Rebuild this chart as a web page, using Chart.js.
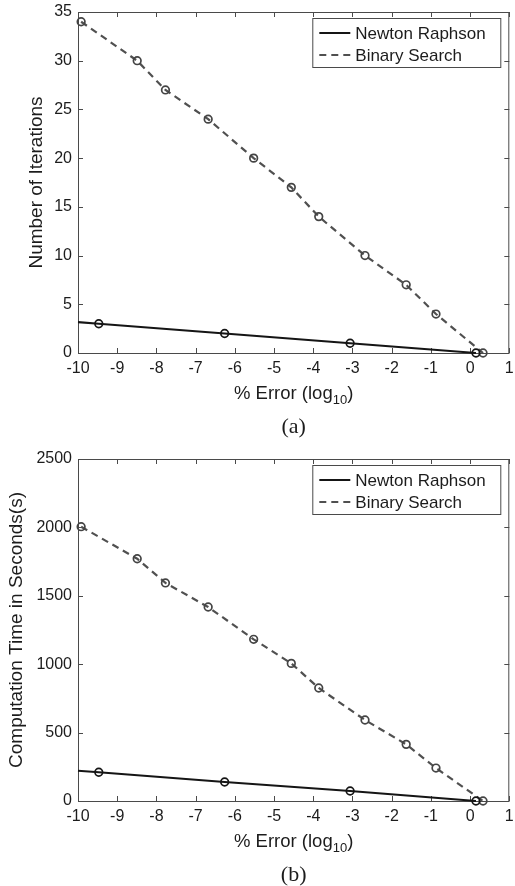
<!DOCTYPE html>
<html>
<head>
<meta charset="utf-8">
<script src="https://cdn.jsdelivr.net/npm/chart.js@4.4.1/dist/chart.umd.min.js"></script>
<style>
  html, body { margin: 0; padding: 0; background: #fff; }
  #wrap { position: relative; width: 515px; height: 886px; }
  canvas { position: absolute; left: 0; }
  #chartA { top: 0; }
  #chartB { top: 447px; }
</style>
</head>
<body>
<div id="wrap">
  <canvas id="chartA" width="515" height="443"></canvas>
  <canvas id="chartB" width="515" height="439"></canvas>
</div>
<script>
// x axis: percent error, log10
const nrError = [-10, -9.47, -6.26, -3.06, 0.15];
const bsError = [-9.92, -8.49, -7.77, -6.68, -5.52, -4.56, -3.86, -2.68, -1.63, -0.87, 0.33];
const nrMarkers = [0, 1, 1, 1, 1]; // first point only continues the line to the axis

// (a) number of iterations
const nrIterations = [3.17, 3, 2, 1, 0];
const bsIterations = [34, 30, 27, 24, 20, 17, 14, 10, 7, 4, 0];

// (b) computation time in seconds
const nrSeconds = [221, 210, 139, 73, 0];
const bsSeconds = [2005, 1771, 1594, 1418, 1182, 1006, 826, 592, 414, 241, 0];

// tick labels
const xTickValues = [-10, -9, -8, -7, -6, -5, -4, -3, -2, -1, 0, 1];
const yTicksA = [0, 5, 10, 15, 20, 25, 30, 35];
const yTicksB = [0, 500, 1000, 1500, 2000, 2500];

const FONT = "'Liberation Sans', Arial, Helvetica, sans-serif";
const SERIF = "'Liberation Serif', 'Times New Roman', serif";
const AXIS_COLOR = '#4a4a4a';
const TEXT_COLOR = '#1c1c1c';

function toPoints(xs, ys) {
    return xs.map((x, i) => ({ x: x, y: ys[i] }));
}

// box around the plot with inward ticks on all four sides
const framePlugin = {
    id: 'frame',
    beforeDatasetsDraw(chart) {
        const { ctx, chartArea: a, scales } = chart;
        const len = 5;
        ctx.save();
        ctx.strokeStyle = AXIS_COLOR;
        ctx.lineWidth = 1;
        ctx.strokeRect(a.left + 0.5, a.top + 0.5, a.right - a.left - 1, a.bottom - a.top);
        ctx.beginPath();
        scales.x.ticks.forEach(t => {
            const px = Math.round(scales.x.getPixelForValue(t.value)) + 0.5;
            ctx.moveTo(px, a.bottom); ctx.lineTo(px, a.bottom - len);
            ctx.moveTo(px, a.top); ctx.lineTo(px, a.top + len);
        });
        scales.y.ticks.forEach(t => {
            const py = Math.round(scales.y.getPixelForValue(t.value)) + 0.5;
            ctx.moveTo(a.left, py); ctx.lineTo(a.left + len, py);
            ctx.moveTo(a.right, py); ctx.lineTo(a.right - len, py);
        });
        ctx.stroke();
        ctx.restore();
    }
};

// legend box in the upper right corner
const boxLegendPlugin = {
    id: 'boxLegend',
    afterDraw(chart) {
        const { ctx, chartArea: a } = chart;
        const w = 188, h = 49;
        const x = a.right - 9 - w, y = a.top + 6;
        ctx.save();
        ctx.fillStyle = '#fff';
        ctx.fillRect(x, y, w, h);
        ctx.strokeStyle = AXIS_COLOR;
        ctx.lineWidth = 1;
        ctx.strokeRect(x + 0.5, y + 0.5, w, h);
        ctx.font = '17px ' + FONT;
        ctx.textBaseline = 'middle';
        chart.data.datasets.forEach((ds, i) => {
            const ly = y + 15 + i * 22;
            ctx.strokeStyle = ds.borderColor;
            ctx.lineWidth = 2;
            ctx.setLineDash(ds.borderDash || []);
            ctx.beginPath();
            ctx.moveTo(x + 7, ly);
            ctx.lineTo(x + 38, ly);
            ctx.stroke();
            ctx.setLineDash([]);
            ctx.fillStyle = TEXT_COLOR;
            ctx.fillText(ds.label, x + 43, ly + 1);
        });
        ctx.restore();
    }
};

// x axis title with subscript, and the panel caption
const captionPlugin = {
    id: 'caption',
    afterDraw(chart, args, opts) {
        const { ctx, chartArea: a } = chart;
        const cx = (a.left + a.right) / 2;
        ctx.save();
        ctx.fillStyle = TEXT_COLOR;
        ctx.textBaseline = 'alphabetic';
        const main = '% Error (log', sub = '10', close = ')';
        const big = '18.5px ' + FONT, small = '13px ' + FONT;
        ctx.font = big;
        const w1 = ctx.measureText(main).width, w3 = ctx.measureText(close).width;
        ctx.font = small;
        const w2 = ctx.measureText(sub).width;
        let x0 = cx - (w1 + w2 + w3) / 2;
        const by = a.bottom + opts.titleOffset;
        ctx.textAlign = 'left';
        ctx.font = big;
        ctx.fillText(main, x0, by);
        ctx.font = small;
        ctx.fillText(sub, x0 + w1, by + 5);
        ctx.font = big;
        ctx.fillText(close, x0 + w1 + w2, by);
        ctx.font = '22px ' + SERIF;
        ctx.textAlign = 'center';
        ctx.textBaseline = 'middle';
        ctx.fillText(opts.text, cx, a.bottom + opts.captionOffset);
        ctx.restore();
    }
};

function makeChart(id, cfg) {
    return new Chart(document.getElementById(id), {
        type: 'line',
        data: {
            datasets: [{
                label: 'Newton Raphson',
                data: toPoints(nrError, cfg.nr),
                borderColor: '#151515',
                borderWidth: 2.2,
                pointRadius: nrMarkers.map(m => m ? 3.8 : 0),
                pointBorderWidth: 1.7,
                pointBorderColor: '#151515',
                pointBackgroundColor: 'rgba(0,0,0,0)',
                tension: 0,
                clip: false
            }, {
                label: 'Binary Search',
                data: toPoints(bsError, cfg.bs),
                borderColor: '#505050',
                borderWidth: 2.2,
                borderDash: [7, 5],
                pointRadius: 3.8,
                pointBorderWidth: 1.7,
                pointBorderColor: '#444',
                pointBackgroundColor: 'rgba(0,0,0,0)',
                tension: 0,
                clip: false
            }]
        },
        options: {
            responsive: false,
            animation: false,
            layout: { padding: { top: 12, right: 2, left: 0, bottom: 0 } },
            plugins: {
                legend: { display: false },
                tooltip: { enabled: false },
                caption: { text: cfg.caption, titleOffset: 46, captionOffset: 74 }
            },
            scales: {
                x: {
                    type: 'linear',
                    min: -10,
                    max: 1,
                    afterBuildTicks: s => { s.ticks = xTickValues.map(v => ({ value: v })); },
                    afterFit: s => {
                        s.height = cfg.xHeight;
                        s.paddingLeft = 0;
                        s.paddingRight = 0;
                    },
                    grid: { display: false, drawTicks: false },
                    border: { display: false },
                    ticks: {
                        color: TEXT_COLOR,
                        font: { family: FONT, size: 16 },
                        padding: 6,
                        maxRotation: 0,
                        autoSkip: false,
                        callback: v => String(v)
                    }
                },
                y: {
                    min: 0,
                    max: cfg.yMax,
                    afterBuildTicks: s => { s.ticks = cfg.yTicks.map(v => ({ value: v })); },
                    afterFit: s => {
                        s.width = 78;
                        s.paddingTop = 0;
                        s.paddingBottom = 0;
                    },
                    grid: { display: false, drawTicks: false },
                    border: { display: false },
                    ticks: {
                        color: TEXT_COLOR,
                        font: { family: FONT, size: 16 },
                        padding: 6,
                        callback: v => String(v)
                    },
                    title: {
                        display: true,
                        text: cfg.yTitle,
                        color: TEXT_COLOR,
                        font: { family: FONT, size: 19 },
                        padding: { top: cfg.yTitlePad, bottom: 0 }
                    }
                }
            }
        },
        plugins: [framePlugin, boxLegendPlugin, captionPlugin]
    });
}

makeChart('chartA', {
    nr: nrIterations,
    bs: bsIterations,
    yMax: 35,
    yTicks: yTicksA,
    yTitle: 'Number of Iterations',
    yTitlePad: 25.6,
    xHeight: 90,
    caption: '(a)'
});

makeChart('chartB', {
    nr: nrSeconds,
    bs: bsSeconds,
    yMax: 2500,
    yTicks: yTicksB,
    yTitle: 'Computation Time in Seconds(s)',
    yTitlePad: 5.6,
    xHeight: 85,
    caption: '(b)'
});
</script>
</body>
</html>
